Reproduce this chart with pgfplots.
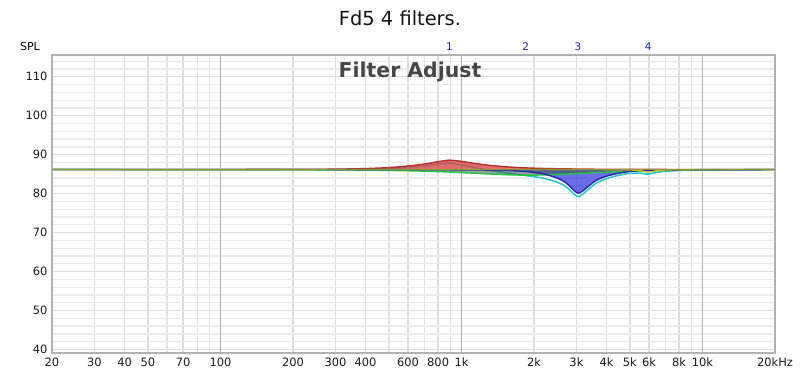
\documentclass[border=0pt]{standalone}
\usepackage{pgfplots}
\pgfplotsset{compat=1.18}
\usepackage{pgfplotstable}
\usepackage{fontspec}
\setmainfont{DejaVu Sans}

\definecolor{baseol}{HTML}{8A9A3A}
\definecolor{redl}{HTML}{B8302E}
\definecolor{redf}{HTML}{D84848}
\definecolor{greenl}{HTML}{22C840}
\definecolor{greenf}{HTML}{3A5A46}
\definecolor{bluel}{HTML}{2424A8}
\definecolor{bluef}{HTML}{3C3CE0}
\definecolor{yell}{HTML}{C8C020}
\definecolor{cyanl}{HTML}{2EC4D2}
\definecolor{mark}{HTML}{2222BB}

\pgfplotstableread{
f     base  r     g     b     y     t
20    86.2  86.2  86.2  86.2  86.2  86.2
50    86.2  86.2  86.19 86.2  86.2  86.19
100   86.2  86.21 86.18 86.2  86.2  86.19
200   86.2  86.24 86.15 86.2  86.2  86.19
300   86.2  86.3  86.1  86.19 86.2  86.19
400   86.2  86.45 86.04 86.18 86.2  86.27
500   86.2  86.7  85.97 86.17 86.2  86.44
600   86.2  87.1  85.88 86.16 86.2  86.74
700   86.2  87.6  85.78 86.15 86.2  87.13
800   86.2  88.2  85.66 86.14 86.2  87.6
890   86.2  88.6  85.55 86.13 86.2  87.88
1000  86.2  88.3  85.4  86.12 86.2  87.42
1100  86.2  87.9  85.28 86.1  86.2  86.88
1200  86.2  87.55 85.16 86.08 86.2  86.39
1400  86.2  87.1  84.96 86.02 86.2  85.68
1600  86.2  86.82 84.82 85.92 86.2  85.16
1848  86.2  86.62 84.75 85.7  86.2  84.67
2000  86.2  86.54 84.76 85.45 86.2  84.35
2200  86.2  86.47 84.82 85.05 86.2  83.94
2500  86.2  86.4  84.93 84.0  86.2  82.93
2700  86.2  86.37 85.02 82.9  86.2  81.89
2850  86.2  86.35 85.08 81.6  86.2  80.63
2925  86.2  86.34 85.11 80.9  86.2  79.95
3000  86.2  86.33 85.14 80.35 86.2  79.42
3043  86.2  86.33 85.16 80.15 86.2  79.24
3090  86.2  86.32 85.18 80.2  86.2  79.31
3150  86.2  86.32 85.21 80.5  86.2  79.63
3230  86.2  86.31 85.24 81.0  86.2  80.15
3300  86.2  86.3  85.27 81.5  86.2  80.67
3600  86.2  86.28 85.4  83.3  86.2  82.56
4000  86.2  86.26 85.52 84.5  86.19 83.87
4500  86.2  86.25 85.65 85.25 86.16 84.71
5000  86.2  86.24 85.75 85.72 86.1  85.21
5500  86.2  86.23 85.83 85.9  85.9  85.26
5957  86.2  86.23 85.88 85.98 85.55 85.04
6500  86.2  86.22 85.93 86.04 85.9  85.49
7000  86.2  86.22 85.97 86.08 86.08 85.75
8000  86.2  86.21 86.03 86.13 86.17 85.94
10000 86.2  86.21 86.09 86.16 86.2  86.06
20000 86.2  86.2  86.2  86.2  86.2  86.17
}\data

\begin{document}
\begin{tikzpicture}
\path[use as bounding box] (-52bp,-24bp) rectangle (748bp,353bp);
\begin{axis}[
  at={(0,0)}, anchor=south west,
  scale only axis, width=723bp, height=298bp,
  xmode=log, xmin=20, xmax=20000, ymin=39.1, ymax=115.6,
  clip=false,
  axis line style={draw=black!30, line width=1.8bp},
  xtick={20,30,40,50,70,100,200,300,400,600,800,1000,2000,3000,4000,5000,6000,8000,10000,20000},
  xticklabels={20,30,40,50,70,100,200,300,400,600,800,1k,2k,3k,4k,5k,6k,8k,10k,20kHz},
  minor xtick={60,80,90,500,700,900,7000,9000},
  ytick={40,50,60,70,80,90,100,110},
  minor ytick={42,44,46,48,52,54,56,58,62,64,66,68,72,74,76,78,82,84,86,88,92,94,96,98,102,104,106,108,112,114},
  grid=both,
  major grid style={draw=black!13, line width=1.3bp},
  minor grid style={draw=black!8, line width=1.3bp},
  minor x grid style={draw=black!11, line width=1.2bp},
  extra x ticks={100,1000,10000},
  extra x tick labels={},
  extra x tick style={grid=major, major grid style={draw=black!30, line width=1.4bp}},
  major tick length=0pt, minor tick length=0pt,
  tick label style={font=\fontsize{11.5}{13}\selectfont, text=black!90},
  /pgf/number format/assume math mode=true,
  xticklabel style={yshift=-1bp},
  yticklabel style={xshift=-1bp},
]
\addplot[white, line width=2.8bp, smooth, tension=0.4] table[x=f,y=t]{\data};
\addplot[cyanl, line width=1.6bp, smooth, tension=0.4] table[x=f,y=t]{\data};
\addplot[draw=none, fill=redf, fill opacity=0.8, smooth, tension=0.4] table[x=f,y=r]{\data} -- cycle;
\addplot[draw=none, fill=bluef, fill opacity=0.75, smooth, tension=0.4] table[x=f,y=b]{\data} -- cycle;
\addplot[draw=none, fill=greenf, fill opacity=0.55, smooth, tension=0.4] table[x=f,y=g]{\data} -- cycle;
\addplot[draw=none, fill=yell, fill opacity=0.6, smooth, tension=0.4] table[x=f,y=y]{\data} -- cycle;
\addplot[greenl, line width=1.4bp, smooth, tension=0.4] table[x=f,y=g]{\data};
\addplot[redl, line width=1.4bp, smooth, tension=0.4] table[x=f,y=r]{\data};
\addplot[bluel, line width=1.4bp, smooth, tension=0.4] table[x=f,y=b]{\data};
\addplot[yell, line width=1.4bp, smooth, tension=0.4] table[x=f,y=y]{\data};
\addplot[baseol, line width=1.8bp] table[x=f,y=base]{\data};
\node[text=mark, anchor=base, font=\fontsize{10.5}{12}\selectfont, yshift=4bp] at (axis cs:891,115.6) {1};
\node[text=mark, anchor=base, font=\fontsize{10.5}{12}\selectfont, yshift=4bp] at (axis cs:1848,115.6) {2};
\node[text=mark, anchor=base, font=\fontsize{10.5}{12}\selectfont, yshift=4bp] at (axis cs:3043,115.6) {3};
\node[text=mark, anchor=base, font=\fontsize{10.5}{12}\selectfont, yshift=4bp] at (axis cs:5957,115.6) {4};
\end{axis}
\node[font=\fontsize{19.5}{22}\selectfont, text=black!92] at (348bp,335bp) {Fd5 4 filters.};
\node[font=\bfseries\fontsize{20.5}{24}\selectfont, text=black!72] at (358bp,281bp) {Filter Adjust};
\node[font=\fontsize{11}{13}\selectfont] at (-22bp,306bp) {SPL};
\end{tikzpicture}
\end{document}
